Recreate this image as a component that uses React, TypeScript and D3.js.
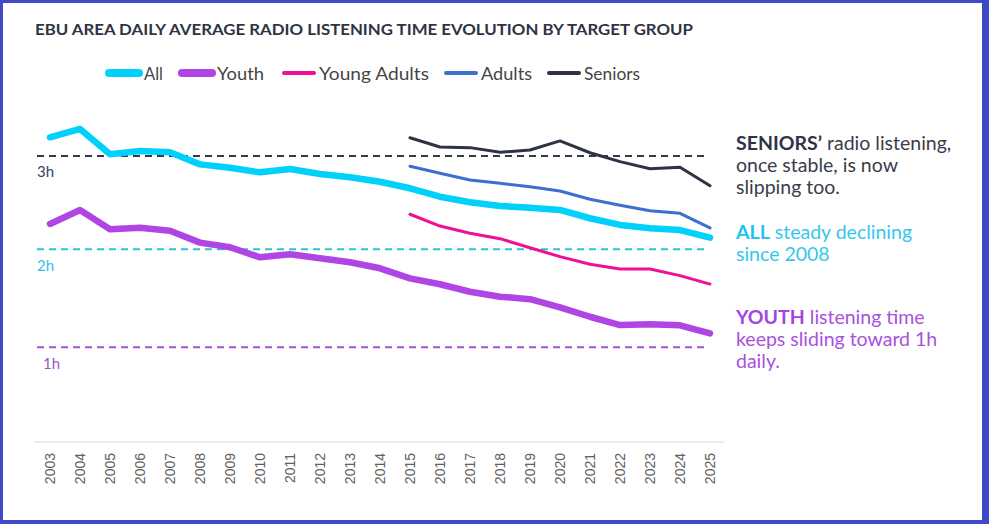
import * as d3 from 'd3'

// values in minutes per day
const years = d3.range(2003, 2026)
const yearsLate = d3.range(2015, 2026)

const allValues = [191.8, 197.0, 181.1, 183.2, 182.4, 174.8, 172.7, 169.8, 171.9, 168.8, 166.7, 163.9,
    159.8, 154.5, 151.0, 148.7, 147.6, 146.2, 141.0, 136.8, 134.7, 133.6, 128.8]
const youthValues = [137.4, 146.2, 134.1, 135.1, 133.2, 125.7, 122.8, 116.5, 118.4, 115.9, 113.4, 109.6,
    103.3, 99.6, 94.9, 91.8, 90.2, 85.1, 79.2, 74.0, 74.5, 73.8, 68.8]
const youngAdultValues = [143.5, 136.1, 131.6, 128.2, 122.5, 116.9, 112.1, 109.2, 109.2, 105.0, 99.7]
const adultValues = [173.6, 169.2, 165.0, 162.9, 160.8, 158.1, 152.9, 149.1, 145.7, 144.1, 134.9]
const seniorValues = [191.5, 185.7, 185.3, 182.4, 183.8, 189.5, 182.1, 176.5, 172.1, 173.0, 161.4]

const refValues = [180, 121.5, 60]
const refLabels = ['3h', '2h', '1h']

const seriesNames = ['All', 'Youth', 'Young Adults', 'Adults', 'Seniors']

const W = 989
const H = 524

const colors: Record<string, string> = {
    'All': '#00D1FA',
    'Youth': '#B045E6',
    'Young Adults': '#EE1096',
    'Adults': '#3E6ED0',
    'Seniors': '#2E3345',
}
const widths: Record<string, number> = {
    'All': 6.5, 'Youth': 6.5, 'Young Adults': 3, 'Adults': 3, 'Seniors': 3
}
const refColors = ['#343947', '#2EC2DA', '#A452D2']
const refLabelColors = ['#3B4163', '#3DB9E0', '#A04FD0']
const refLabelDx = [0, 0, 6]
const refLabelDy = [21, 22, 22]

const legendX = [106, 179, 281, 443, 546]
const legendTextW = [19, 47, 110, 51, 56]

const font = 'Lato, "Noto Sans", sans-serif'

export default function App() {
    const x = d3.scaleLinear().domain([2003, 2025]).range([50, 710])
    const y = d3.scaleLinear().domain([0, 240]).range([443, 443 - 240 * 1.594])

    const makeLine = d3.line<[number, number]>()
        .x(d => x(d[0]))
        .y(d => y(d[1]))

    const series = [
        { name: 'Seniors', xs: yearsLate, vs: seniorValues },
        { name: 'Adults', xs: yearsLate, vs: adultValues },
        { name: 'Young Adults', xs: yearsLate, vs: youngAdultValues },
        { name: 'Youth', xs: years, vs: youthValues },
        { name: 'All', xs: years, vs: allValues },
    ]

    return (
        <svg width={W} height={H} style={{ display: 'block' }}>
            <style>{`body{margin:0}`}</style>
            <rect x={0} y={0} width={W} height={H} fill="#4049C6" />
            <rect x={3} y={3} width={979} height={517} fill="#ffffff" />

            <text x={35} y={35} fontFamily={font} fontWeight="bold" fontSize={15}
                fill="#2F3344" textLength={658} lengthAdjust="spacingAndGlyphs">
                EBU AREA DAILY AVERAGE RADIO LISTENING TIME EVOLUTION BY TARGET GROUP
            </text>

            {seriesNames.map((name, i) => (
                <g key={name} transform={`translate(${legendX[i]},73)`}>
                    <line x1={3} x2={33} y1={0} y2={0} stroke={colors[name]}
                        strokeWidth={widths[name] > 4 ? 8 : 4} strokeLinecap="round" />
                    <text x={38} y={6.5} fontFamily={font} fontSize={18} fill="#454545"
                        textLength={legendTextW[i]} lengthAdjust="spacingAndGlyphs">{name}</text>
                </g>
            ))}

            {refValues.map((v, i) => (
                <g key={refLabels[i]}>
                    <line x1={37} x2={706} y1={y(v)} y2={y(v)} stroke={refColors[i]}
                        strokeWidth={2} strokeDasharray="7,5" />
                    <text x={37 + refLabelDx[i]} y={y(v) + refLabelDy[i]} fontFamily={font}
                        fontSize={15} fill={refLabelColors[i]}>{refLabels[i]}</text>
                </g>
            ))}

            <line x1={34} x2={724} y1={442} y2={442} stroke="#d9d9d9" strokeWidth={1} />
            {years.map(yr => (
                <text key={yr} transform={`translate(${x(yr)},453) rotate(-90)`} dy="0.35em"
                    textAnchor="end" fontFamily='"Liberation Sans", Arial, sans-serif'
                    fontSize={14} fill="#606060">{yr}</text>
            ))}

            {series.map(s => (
                <path key={s.name}
                    d={makeLine(s.xs.map((yr, i) => [yr, s.vs[i]] as [number, number])) || ''}
                    fill="none" stroke={colors[s.name]} strokeWidth={widths[s.name]}
                    strokeLinecap="round" strokeLinejoin="round" />
            ))}

            <g fontFamily={font} fontSize={19.5}>
                <text x={736} y={150} fill="#3A3D4A">
                    <tspan fontWeight="bold" fill="#2E3345">SENIORS’</tspan> radio listening,
                </text>
                <text x={736} y={172} fill="#3A3D4A">once stable, is now</text>
                <text x={736} y={194} fill="#3A3D4A">slipping too.</text>

                <text x={736} y={239} fill="#38C6EC">
                    <tspan fontWeight="bold" fill="#22C4EE">ALL</tspan> steady declining
                </text>
                <text x={736} y={261} fill="#38C6EC">since 2008</text>

                <text x={736} y={324} fill="#A752DE">
                    <tspan fontWeight="bold" fill="#A445E0">YOUTH</tspan> listening time
                </text>
                <text x={736} y={346} fill="#A752DE">keeps sliding toward 1h</text>
                <text x={736} y={368} fill="#A752DE">daily.</text>
            </g>
        </svg>
    )
}
